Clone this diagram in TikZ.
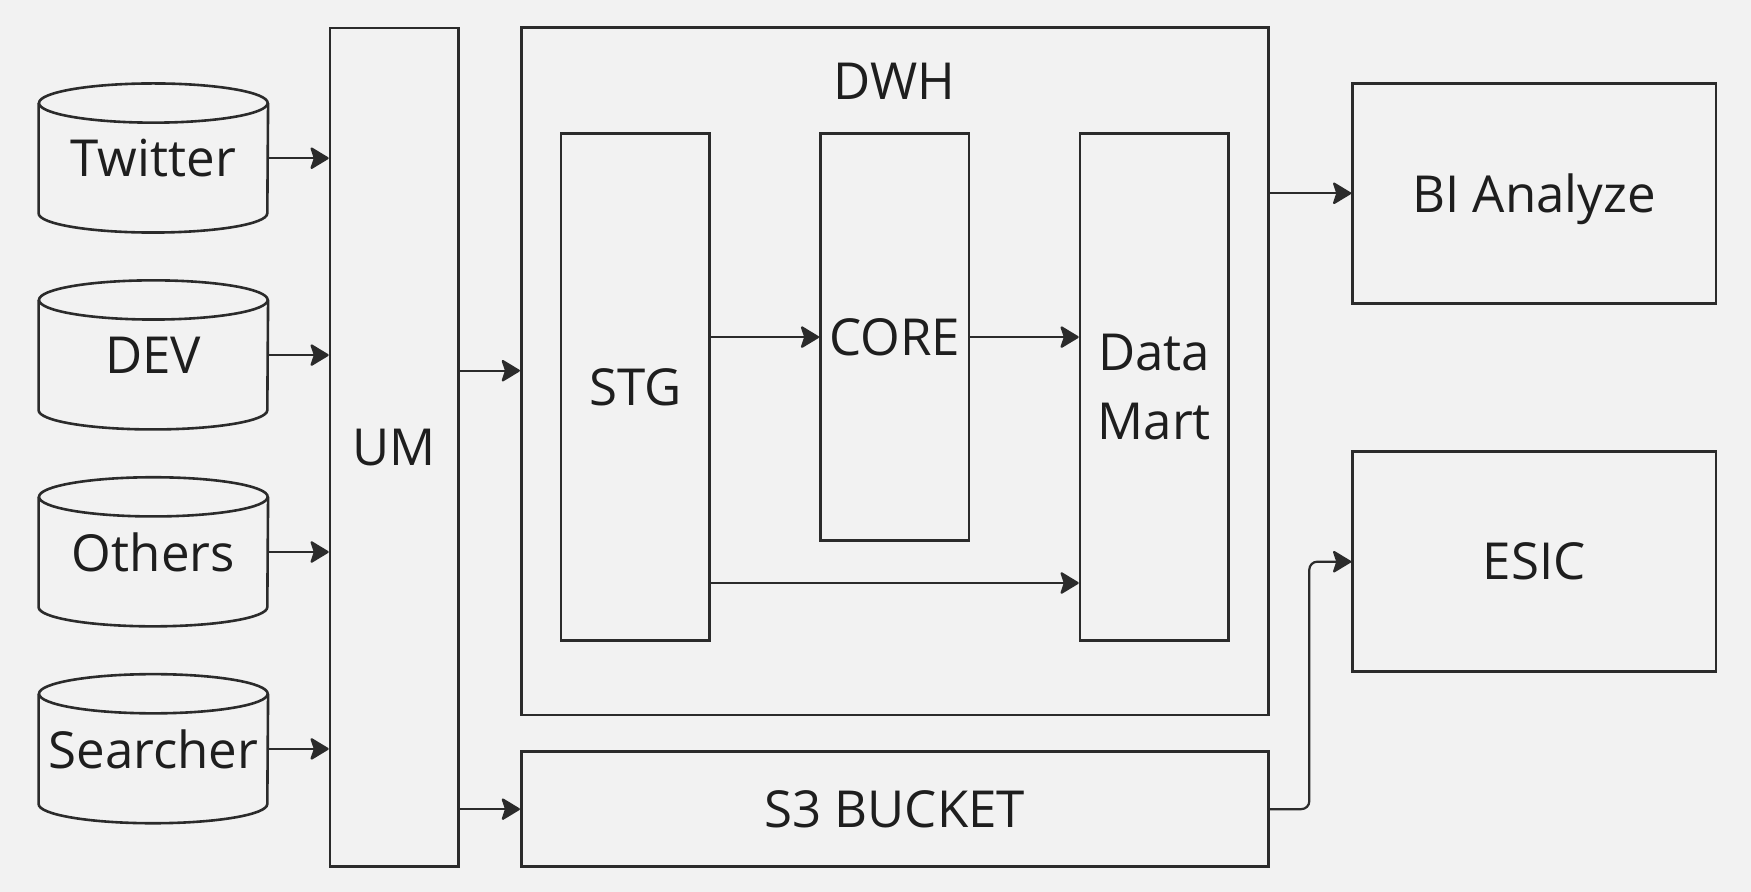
\documentclass[tikz,border=0pt]{standalone}
\usepackage{fontspec}
\setmainfont{Open Sans}
\usetikzlibrary{arrows.meta}
\definecolor{bgc}{HTML}{F2F2F2}
\definecolor{lnc}{HTML}{2B2B2B}
\definecolor{txc}{HTML}{1E1E1E}
\newcommand\dbdraw[1]{%
  \draw[lnc, line width=1.3pt] (#1.north west) -- (#1.south west)
    arc[start angle=180, end angle=360, x radius=57.175pt, y radius=9.6pt]
    -- (#1.north east);
  \draw[lnc, line width=1.3pt] (#1.north) ellipse [x radius=57.175pt, y radius=9.8pt];
}
\begin{document}
\begin{tikzpicture}[x=0.5pt,y=0.5pt,
  every node/.style={font=\fontsize{25.5}{34.5}\selectfont, text=txc},
  box/.style={draw=lnc, line width=1.3pt, inner sep=0pt},
  db/.style={inner sep=0pt, minimum width=114.35pt, minimum height=54.75pt},
  arr/.style={draw=lnc, line width=1.1pt, -{Stealth[length=10pt,width=12pt,inset=2pt,round]}},
]
\fill[bgc] (0,0) rectangle (1751,-892);
\useasboundingbox (0,0) rectangle (1751,-892);

% sources
\node[db] (tw)  at (153.35,-158.2) {Twitter};
\node[db] (dev) at (153.35,-355.1) {DEV};
\node[db] (oth) at (153.35,-552)   {Others};
\node[db] (sea) at (153.35,-748.9) {Searcher};
\dbdraw{tw}\dbdraw{dev}\dbdraw{oth}\dbdraw{sea}

% UM
\node[box, minimum width=64.25pt, minimum height=419.25pt] (um) at (394.25,-447.25) {UM};

% DWH
\node[box, minimum width=373.5pt, minimum height=343.65pt] (dwh) at (894.7,-371.35) {};
\node (dwhl) at (894.5,-81.3) {DWH};
\node[box, minimum width=74.35pt, minimum height=253.3pt] (stg) at (635.35,-387) {STG};
\node[box, minimum width=74.25pt, minimum height=203.4pt] (core) at (894.65,-337.1) {CORE};
\node[box, minimum width=74.3pt, minimum height=253.3pt, align=center] (dm) at (1154.3,-387) {Data\\Mart};

% S3
\node[box, minimum width=373.5pt, minimum height=57.45pt] (s3) at (894.7,-809.15) {S3 BUCKET};

% outputs
\node[box, minimum width=181.75pt, minimum height=110pt, text depth=0pt] (bi) at (1534.25,-193.3) {BI Analyze};
\node[box, minimum width=181.75pt, minimum height=110pt] (esic) at (1534.25,-561.7) {ESIC};

% connectors
\foreach \n in {tw,dev,oth,sea} \draw[arr] (\n.east) -- (\n.east -| um.west);
\coordinate (y1) at (0,-370.7);
\draw[arr] (um.east |- y1) -- (dwh.west |- y1);
\draw[arr] (stg.east |- core) -- (core.west);
\draw[arr] (core.east) -- (dm.west |- core);
\coordinate (y2) at (0,-583);
\draw[arr] (stg.east |- y2) -- (dm.west |- y2);
\draw[arr] (dwh.east |- bi) -- (bi.west);
\draw[arr] (um.east |- s3) -- (s3.west);
\coordinate (xb) at (1309.3,0);
\draw[arr, rounded corners=4pt] (s3.east) -| (xb |- esic.west) -- (esic.west);
\end{tikzpicture}
\end{document}
